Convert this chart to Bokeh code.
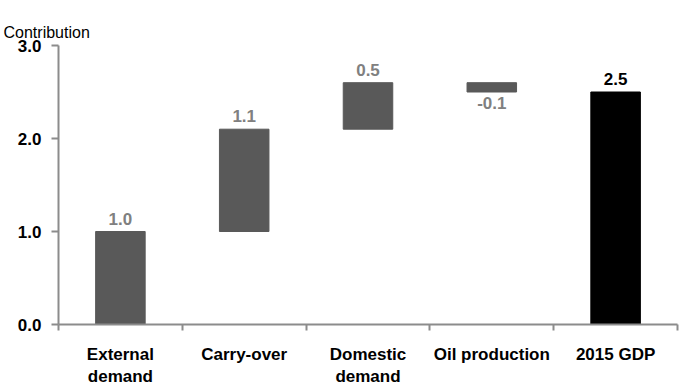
from bokeh.plotting import figure
from bokeh.models import ColumnDataSource, FixedTicker, Range1d, Title
from bokeh.core.properties import value
from bokeh.embed import file_html
from bokeh.resources import INLINE

# Waterfall of contributions to 2015 GDP growth
categories = ["External\ndemand", "Carry-over", "Domestic\ndemand", "Oil production", "2015 GDP"]
contributions = [1.0, 1.1, 0.5, -0.1]
total = 2.5
y_ticks = [0, 1, 2, 3]

FONT = "Liberation Sans"
AXIS_GREY = "#8c8c8c"

# Build floating bars from running sums
bottoms, tops = [], []
running = 0.0
for c in contributions:
    start, end = running, running + c
    bottoms.append(min(start, end))
    tops.append(max(start, end))
    running = end
bottoms.append(0.0)
tops.append(total)

xs = [i + 0.5 for i in range(len(categories))]
colors = ["#595959"] * len(contributions) + ["#000000"]
vals = contributions + [total]
label_txt = [f"{v:.1f}" for v in vals]
label_col = ["#808080"] * len(contributions) + ["#000000"]

src = ColumnDataSource(dict(x=xs, bottom=bottoms, top=tops, color=colors))

p = figure(width=680, height=389, output_backend="svg", toolbar_location=None,
           x_range=Range1d(0, len(categories)), y_range=Range1d(0, 3),
           min_border_left=58, min_border_right=3, min_border_top=45, min_border_bottom=65)
p.outline_line_color = None
p.xgrid.visible = False
p.ygrid.visible = False
p.background_fill_color = "white"

p.vbar(x="x", bottom="bottom", top="top", width=0.4, color="color", source=src)

# value labels: above for rises, below for falls
up_idx = [i for i, v in enumerate(vals) if v >= 0]
dn_idx = [i for i, v in enumerate(vals) if v < 0]
for idx, base, off, anchor_key in [(up_idx, "bottom", -7, "top"), (dn_idx, "top", 5, "bottom")]:
    s = ColumnDataSource(dict(
        x=[xs[i] for i in idx],
        y=[tops[i] if anchor_key == "top" else bottoms[i] for i in idx],
        t=[label_txt[i] for i in idx],
        c=[label_col[i] for i in idx],
    ))
    p.text(x="x", y="y", text="t", text_color="c", source=s,
           text_align="center", text_baseline=base, y_offset=off,
           text_font=value(FONT), text_font_style="bold", text_font_size="17px")

# x axis: labels at centres, ticks at category boundaries
xa = p.xaxis[0]
xa.ticker = FixedTicker(ticks=xs, minor_ticks=list(range(len(categories) + 1)))
xa.major_label_overrides = {x: c for x, c in zip(xs, categories)}
xa.major_tick_line_color = None
xa.minor_tick_in = 0
xa.minor_tick_out = 6
xa.minor_tick_line_color = AXIS_GREY
xa.minor_tick_line_width = 2
xa.axis_line_color = AXIS_GREY
xa.axis_line_width = 2
xa.major_label_text_font = FONT
xa.major_label_text_font_style = "bold"
xa.major_label_text_font_size = "17px"
xa.major_label_text_color = "black"
xa.major_label_standoff = 14

ya = p.yaxis[0]
ya.ticker = FixedTicker(ticks=y_ticks)
ya.major_label_overrides = {t: f"{t:.1f}" for t in y_ticks}
ya.minor_tick_line_color = None
ya.major_tick_in = 0
ya.major_tick_out = 7
ya.major_tick_line_color = AXIS_GREY
ya.major_tick_line_width = 2
ya.axis_line_color = AXIS_GREY
ya.axis_line_width = 2
ya.major_label_text_font = FONT
ya.major_label_text_font_style = "bold"
ya.major_label_text_font_size = "17px"
ya.major_label_text_color = "black"
ya.major_label_standoff = 10

# unit caption at top left (outermost panel)
p.add_layout(Title(text="Contribution", text_font=FONT, text_font_size="16px",
                   text_font_style="normal", text_color="black", align="left",
                   vertical_align="top", offset=-55, standoff=6), "above")
# blank spacer band between the caption and the plot area
p.add_layout(Title(text=".", text_alpha=0, text_font_size="10px", standoff=8), "above")

open("out.html", "w").write(file_html(p, INLINE))
